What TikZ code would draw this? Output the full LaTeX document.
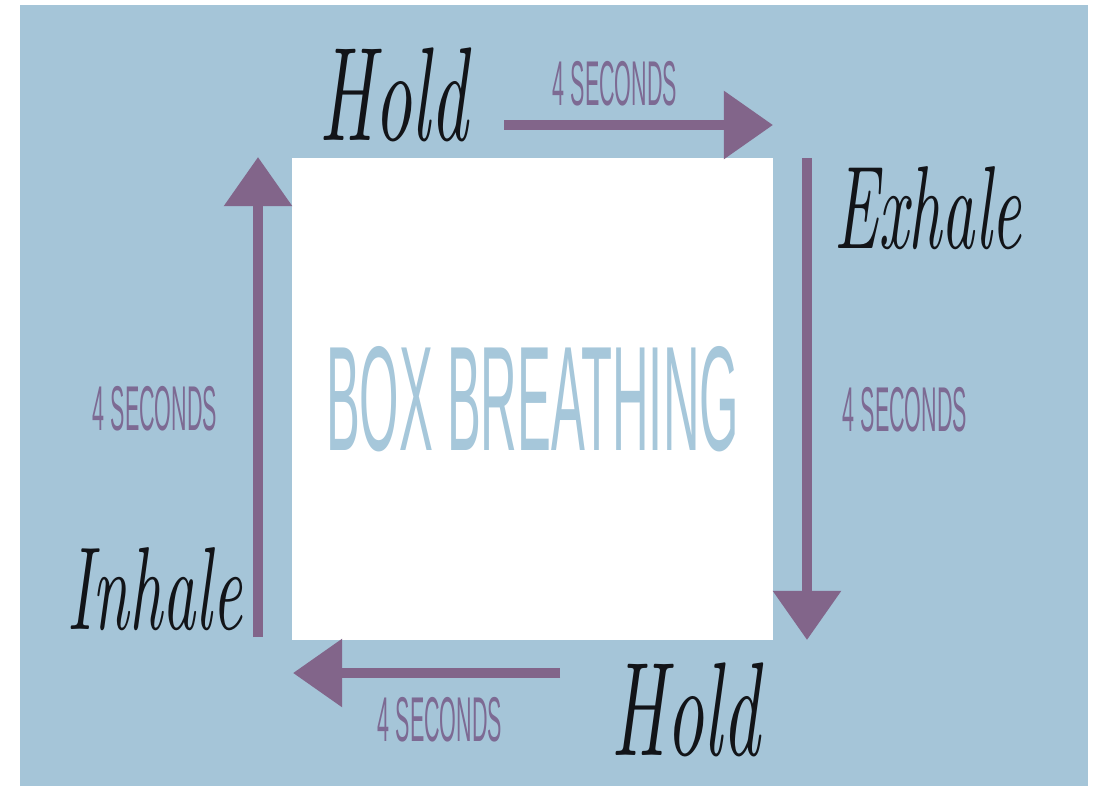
\documentclass[tikz,border=0pt]{standalone}
\usepackage{fontspec}
\usetikzlibrary{arrows.meta}

\newfontfamily\condfont[FakeStretch=0.34]{Liberation Sans}
\newfontfamily\handfont[Extension=.otf,FakeStretch=0.55]{lmroman10-italic}

\definecolor{bgblue}{HTML}{A5C5D8}
\definecolor{arrowpurple}{HTML}{82658A}
\definecolor{secpurple}{HTML}{7D6A93}
\definecolor{titleblue}{HTML}{A6C7DA}
\definecolor{inkblack}{HTML}{121418}

\tikzset{
  breathbox/.style={fill=white, inner sep=0pt, minimum size=12.03cm,
    text=titleblue, font=\condfont\fontsize{106}{106}\selectfont},
  secs/.style={anchor=base, inner sep=0pt, text=secpurple,
    font=\condfont\fontsize{45}{45}\selectfont},
  hand/.style={anchor=base, inner sep=0pt, text=inkblack},
  flow/.style={draw=arrowpurple, line width=0.25cm,
    -{Triangle[length=1.23cm, width=1.65cm]}}
}

\begin{document}
\begin{tikzpicture}[x=0.025cm, y=-0.025cm]
  % page and blue card
  \useasboundingbox (0,0) rectangle (1097,789);
  \fill[white] (0,0) rectangle (1097,789);
  \fill[bgblue] (20,5) rectangle (1088,786);

  % the white square
  \node[breathbox] (box) at (532.5,399) {BOX BREATHING};

  % arrow ends
  \coordinate (inS) at (258,637);
  \coordinate (inE) at (258,157);
  \coordinate (holdS) at (504,125);
  \coordinate (holdE) at (773,125);
  \coordinate (exS) at (807,158);
  \coordinate (exE) at (807,640);
  \coordinate (restS) at (560,673);
  \coordinate (restE) at (293,673);

  % four arrows round the square
  \draw[flow] (inS) -- (inE);
  \draw[flow] (holdS) -- (holdE);
  \draw[flow] (exS) -- (exE);
  \draw[flow] (restS) -- (restE);

  % 4 seconds labels
  \node[secs] (secTop) at (615,105) {4 SECONDS};
  \node[secs] (secRight) at (905,431) {4 SECONDS};
  \node[secs] (secBottom) at (440,741) {4 SECONDS};
  \node[secs] (secLeft) at (155,430) {4 SECONDS};

  % handwritten words
  \node[hand] (holdTop) at (394,140) {\handfont\fontsize{95}{95}\selectfont Hold};
  \node[hand] (exhale) at (928,248) {\handfont\fontsize{84}{84}\selectfont Exhale};
  \node[hand] (holdBottom) at (686,755) {\handfont\fontsize{95}{95}\selectfont Hold};
  \node[hand] (inhale) at (155,629) {\handfont\fontsize{84}{84}\selectfont Inhale};
\end{tikzpicture}
\end{document}
